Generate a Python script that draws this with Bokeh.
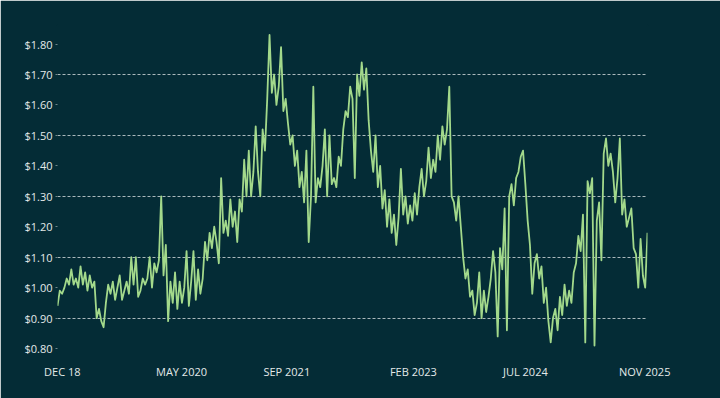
import pandas as pd
from bokeh.plotting import figure
from bokeh.models import Range1d, FixedTicker, NumeralTickFormatter
from bokeh.embed import file_html
from bokeh.resources import INLINE

# ---- data ----
start_date = "2018-11-10"
step_days = 10
prices = [
    0.94, 0.99, 0.98, 1.00, 1.03, 1.01, 1.06, 1.01, 1.03, 1.00,
    1.07, 1.01, 1.05, 0.99, 1.04, 1.00, 1.02, 0.90, 0.93, 0.89,
    0.87, 0.95, 1.01, 0.98, 1.02, 0.96, 1.00, 1.04, 0.96, 0.99,
    1.02, 0.98, 1.10, 1.01, 1.10, 0.97, 0.99, 1.03, 1.01, 1.03,
    1.10, 1.00, 1.08, 1.05, 1.09, 1.30, 1.04, 1.14, 0.89, 1.02,
    0.95, 1.05, 0.93, 1.02, 0.95, 1.00, 1.12, 0.94, 1.02, 1.12,
    0.96, 1.06, 0.98, 1.03, 1.15, 1.09, 1.18, 1.13, 1.20, 1.15,
    1.08, 1.36, 1.18, 1.22, 1.17, 1.29, 1.20, 1.25, 1.15, 1.29,
    1.25, 1.42, 1.30, 1.45, 1.30, 1.38, 1.53, 1.38, 1.30, 1.52,
    1.45, 1.62, 1.83, 1.64, 1.70, 1.60, 1.66, 1.79, 1.58, 1.62,
    1.54, 1.47, 1.50, 1.40, 1.45, 1.33, 1.38, 1.28, 1.45, 1.15,
    1.30, 1.66, 1.28, 1.36, 1.33, 1.40, 1.52, 1.30, 1.50, 1.34,
    1.36, 1.33, 1.43, 1.40, 1.52, 1.58, 1.56, 1.66, 1.62, 1.36,
    1.70, 1.63, 1.74, 1.65, 1.72, 1.55, 1.45, 1.38, 1.50, 1.33,
    1.40, 1.26, 1.32, 1.20, 1.29, 1.18, 1.24, 1.14, 1.23, 1.39,
    1.24, 1.30, 1.21, 1.27, 1.22, 1.31, 1.24, 1.33, 1.39, 1.30,
    1.35, 1.46, 1.36, 1.42, 1.38, 1.50, 1.42, 1.53, 1.47, 1.52,
    1.66, 1.30, 1.28, 1.22, 1.30, 1.20, 1.10, 1.03, 1.06, 0.97,
    0.99, 0.91, 0.95, 1.05, 0.90, 0.99, 0.92, 0.97, 1.03, 1.12,
    1.05, 0.84, 1.13, 1.06, 1.26, 0.86, 1.30, 1.34, 1.27, 1.36,
    1.38, 1.43, 1.45, 1.34, 1.22, 1.14, 0.98, 1.08, 1.11, 1.03,
    1.07, 0.95, 1.00, 0.89, 0.82, 0.90, 0.93, 0.86, 0.97, 0.91,
    1.01, 0.94, 0.99, 0.95, 1.05, 1.08, 1.17, 1.12, 1.24, 0.82,
    1.35, 1.31, 1.36, 0.81, 1.22, 1.28, 1.09, 1.44, 1.49, 1.40,
    1.44, 1.38, 1.28, 1.36, 1.49, 1.24, 1.29, 1.20, 1.23, 1.26,
    1.13, 1.11, 1.00, 1.16, 1.04, 1.00, 1.18,
]
tick_dates = ["2018-12-01", "2020-05-01", "2021-08-01", "2023-02-01", "2024-06-01", "2025-11-01"]
tick_labels = ["DEC 18", "MAY 2020", "SEP 2021", "FEB 2023", "JUL 2024", "NOV 2025"]
y_ticks = [0.80, 0.90, 1.00, 1.10, 1.20, 1.30, 1.40, 1.50, 1.60, 1.70, 1.80]
grid_levels = [0.90, 1.10, 1.30, 1.50, 1.70]

BG = "#042c36"
LINE = "#a3d98b"
TXT = "#e3e9e9"
FONT = "Open Sans"

dates = pd.date_range(start_date, periods=len(prices), freq=f"{step_days}D")
x_start = pd.Timestamp(start_date)
x_end = x_start + pd.Timedelta(days=step_days * (len(prices) - 1))

p = figure(width=720, height=398, x_axis_type="datetime",
           output_backend="svg", toolbar_location=None,
           x_range=Range1d(x_start, x_end), y_range=Range1d(0.787, 1.861),
           background_fill_color=BG, border_fill_color=BG,
           min_border_left=57, min_border_right=73,
           min_border_top=25, min_border_bottom=46)
# paint over the seam between frame and border fills
p.outline_line_color = BG
p.outline_line_width = 2

p.line(dates, prices, line_color=LINE, line_width=1.8, line_join="round")

# grid
p.xgrid.visible = False
p.ygrid.ticker = FixedTicker(ticks=grid_levels)
p.ygrid.grid_line_color = "#c9d2d3"
p.ygrid.grid_line_dash = "3 2"
p.ygrid.grid_line_width = 1
p.ygrid.grid_line_alpha = 0.85

# y axis
p.yaxis.ticker = FixedTicker(ticks=y_ticks)
p.yaxis.formatter = NumeralTickFormatter(format="$0.00")
p.yaxis.axis_line_color = None
p.yaxis.major_tick_in = 0
p.yaxis.major_tick_out = 2
p.yaxis.major_tick_line_color = "#6f8589"
p.yaxis.minor_tick_line_color = None
p.yaxis.major_label_standoff = 3

# x axis
tick_ms = [pd.Timestamp(d).value // 10**6 for d in tick_dates]
p.xaxis.ticker = FixedTicker(ticks=tick_ms)
p.xaxis.major_label_overrides = {t: lab for t, lab in zip(tick_ms, tick_labels)}
p.xaxis.axis_line_color = None
p.xaxis.major_tick_line_color = None
p.xaxis.minor_tick_line_color = None
p.xaxis.major_label_standoff = 5

for ax in (p.xaxis[0], p.yaxis[0]):
    ax.major_label_text_color = TXT
    ax.major_label_text_font = FONT
    ax.major_label_text_font_size = "11px"

html = file_html(p, INLINE)
html = html.replace("<body>", f'<body style="background-color:{BG};">', 1)
open("out.html", "w").write(html)
